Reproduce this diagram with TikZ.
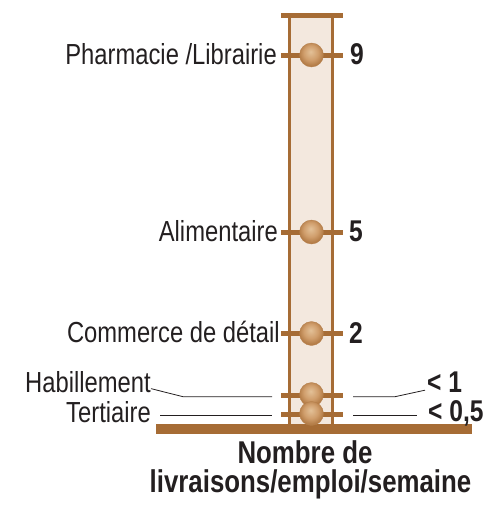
\documentclass[tikz,border=0pt]{standalone}
\usepackage{fontspec}
\setmainfont{Liberation Sans}[FakeStretch=0.82]
\definecolor{barbrown}{HTML}{A66C35}
\definecolor{colfill}{HTML}{F3E8DE}
\definecolor{balllight}{HTML}{E3C198}
\definecolor{ballmid}{HTML}{D09E6C}
\definecolor{balldark}{HTML}{B47D48}
\definecolor{txt}{HTML}{231F20}
\pgfdeclareradialshading{beadshade}{\pgfpoint{-2bp}{7bp}}{color(0bp)=(balllight); color(15bp)=(ballmid); color(25bp)=(balldark); color(50bp)=(balldark)}
\tikzset{
  lbl/.style={font=\fontsize{29}{30}\selectfont, text=txt, inner sep=0pt, anchor=base east},
  val/.style={font=\fontsize{30}{30}\selectfont\bfseries, text=txt, inner sep=0pt, anchor=base west},
  ttl/.style={font=\fontsize{31.5}{30}\selectfont\bfseries, text=txt, inner sep=0pt, anchor=base},
  bead/.style={circle, minimum size=24pt, inner sep=0pt, shading=beadshade, draw=balldark, line width=0.3pt},
  tick/.style={barbrown, line width=5pt},
  rail/.style={barbrown, line width=3pt},
  leader/.style={txt, line width=0.8pt}
}
\begin{document}
\begin{tikzpicture}[x=1pt,y=-1pt]
\useasboundingbox (0,0) rectangle (486,506);
% column
\fill[colfill] (289.5,15) rectangle (332.5,424);
\draw[rail] (289.5,15) -- (289.5,424);
\draw[rail] (332.5,15) -- (332.5,424);
\fill[barbrown] (281,12.5) rectangle (343,17.5);
\fill[barbrown] (156,424) rectangle (472,434);
% ticks
\foreach \y in {55,232,333.5,395.5,414.3} \draw[tick] (281,\y) -- (343,\y);
% beads
\node[bead] (b9) at (311.5,55) {};
\node[bead] (b5) at (311.5,232) {};
\node[bead] (b2) at (311.5,333.5) {};
\node[bead] (b1) at (311.5,394.5) {};
\node[bead] (b05) at (311.5,413.5) {};
% labels
\node[lbl] (pha) at (277,64.5) {Pharmacie /Librairie};
\node[lbl] (ali) at (278,241) {Alimentaire};
\node[lbl] (com) at (280,342.5) {Commerce de détail};
\node[lbl] (hab) at (151,392) {Habillement};
\node[lbl] (ter) at (151,422) {Tertiaire};
\node[val] (v9) at (350,64.5) {9};
\node[val] (v5) at (349,241) {5};
\node[val] (v2) at (349,343) {2};
\node[val] (v1) at (427,392.5) {< 1};
\node[val] (v05) at (428,421) {< 0,5};
% leaders
\coordinate (h1) at (183,396.7);
\coordinate (h2) at (272,396.7);
\coordinate (r1) at (353,396.7);
\coordinate (r2) at (395,396.7);
\coordinate (t1) at (160,415);
\coordinate (t2) at (272,415);
\coordinate (s1) at (353,415);
\coordinate (s2) at (417,415);
\draw[leader] ([yshift=-7pt]hab.east) -- (h1) -- (h2);
\draw[leader] (r1) -- (r2) -- ([xshift=-2pt,yshift=-8pt]v1.west);
\draw[leader] (t1) -- (t2);
\draw[leader] (s1) -- (s2);
% title
\node[ttl] (t1l) at (305,463.5) {Nombre de};
\node[ttl] (t2l) at (310.5,492) {livraisons/emploi/semaine};
\end{tikzpicture}
\end{document}
